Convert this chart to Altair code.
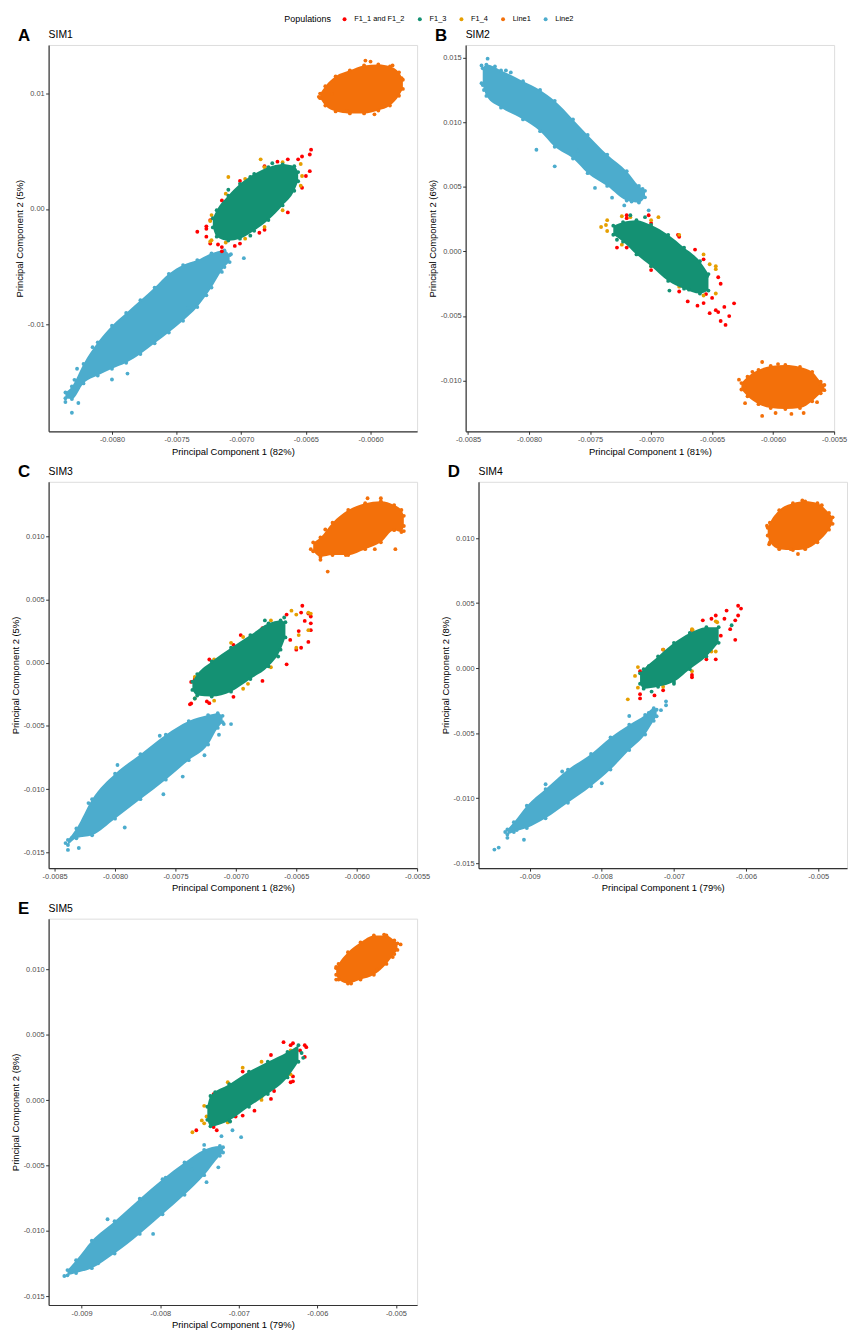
import altair as alt
import pandas as pd

POPS = ["F1_1 and F1_2", "F1_3", "F1_4", "Line1", "Line2"]
COLORS = ["#FF0000", "#149173", "#E69F00", "#F3700A", "#4CACCD"]
DRAW_ORDER = ["Line2", "Line1", "F1_1 and F1_2", "F1_4", "F1_3"]
FILLED = ["Line2", "Line1", "F1_3"]          # clusters drawn as a dense core
FONT = "Liberation Sans"

# ---------------- SIM1 (panel A) : rows are (PC1, PC2 low, PC2 high) ----------------
SIM1_LINE2_BAND = [(-0.00836, -0.01640, -0.01590), (-0.00831, -0.01647, -0.01537), (-0.00822, -0.01511, -0.01342),
                   (-0.00811, -0.01443, -0.01155), (-0.00800, -0.01384, -0.01011), (-0.00789, -0.01333, -0.00901),
                   (-0.00778, -0.01257, -0.00791), (-0.00767, -0.01164, -0.00681), (-0.00756, -0.01071, -0.00562),
                   (-0.00745, -0.00969, -0.00486), (-0.00734, -0.00850, -0.00443), (-0.00723, -0.00681, -0.00384),
                   (-0.00713, -0.00503, -0.00358), (-0.00709, -0.00460, -0.00400)]
SIM1_LINE2_PTS = [(-0.00836, -0.01672), (-0.00831, -0.01765), (-0.00826, -0.01681), (-0.00829, -0.01480),
                  (-0.00827, -0.01384), (-0.00815, -0.01197), (-0.00800, -0.01477), (-0.00788, -0.01426),
                  (-0.00715, -0.00545), (-0.00708, -0.00392), (-0.00698, -0.00426), (-0.00727, -0.00748),
                  (-0.00741, -0.00859), (-0.00765, -0.01113)]
SIM1_LINE1_BAND = [(-0.00639, 0.00960, 0.01000), (-0.00635, 0.00896, 0.01064), (-0.00627, 0.00845, 0.01149),
                   (-0.00616, 0.00828, 0.01201), (-0.00605, 0.00828, 0.01243), (-0.00594, 0.00853, 0.01252),
                   (-0.00585, 0.00896, 0.01235), (-0.00578, 0.00981, 0.01184), (-0.00575, 0.01040, 0.01120)]
SIM1_LINE1_PTS = [(-0.00640, 0.00972), (-0.00634, 0.00913), (-0.00600, 0.01277), (-0.00604, 0.01286),
                  (-0.00583, 0.01243), (-0.00597, 0.00820), (-0.00618, 0.00845), (-0.00576, 0.01133),
                  (-0.00630, 0.00997)]
SIM1_F112_BAND = [(-0.00727, -0.00240, -0.00150), (-0.00724, -0.00300, -0.00096), (-0.00715, -0.00330, 0.00074),
                  (-0.00701, -0.00300, 0.00243), (-0.00682, -0.00180, 0.00370), (-0.00664, -0.00030, 0.00430),
                  (-0.00653, 0.00184, 0.00455), (-0.00647, 0.00328, 0.00472)]
SIM1_F112_PTS = [(-0.00646, 0.00514), (-0.00656, 0.00430), (-0.00734, -0.00197), (-0.00715, -0.00367),
                 (-0.00686, -0.00206), (-0.00650, 0.00286), (-0.00727, -0.00172), (-0.00718, -0.00308),
                 (-0.00705, -0.00320), (-0.00660, 0.00250), (-0.00672, 0.00410)]
SIM1_F14_BAND = [(-0.00723, -0.00270, -0.00053), (-0.00712, -0.00290, 0.00133), (-0.00697, -0.00257, 0.00260),
                 (-0.00682, -0.00155, 0.00362), (-0.00668, -0.00011, 0.00405), (-0.00654, 0.00201, 0.00390)]
SIM1_F14_PTS = [(-0.00724, -0.00104), (-0.00724, -0.00282), (-0.00710, 0.00277), (-0.00685, 0.00430),
                (-0.00653, 0.00286), (-0.00660, 0.00345)]
SIM1_F13_BAND = [(-0.00722, -0.00160, -0.00080), (-0.00719, -0.00240, -0.00011), (-0.00710, -0.00274, 0.00116),
                 (-0.00701, -0.00257, 0.00218), (-0.00690, -0.00189, 0.00303), (-0.00679, -0.00096, 0.00362),
                 (-0.00668, 0.00031, 0.00387), (-0.00659, 0.00158, 0.00370), (-0.00656, 0.00240, 0.00320)]
SIM1_F13_PTS = [(-0.00710, 0.00167), (-0.00693, 0.00277), (-0.00676, 0.00396), (-0.00693, -0.00231)]

# ---------------- SIM2 (panel B) ----------------
SIM2_LINE2_BAND = [(-0.00838, 0.01290, 0.01420), (-0.00835, 0.01206, 0.01449), (-0.00823, 0.01115, 0.01404),
                   (-0.00805, 0.01024, 0.01320), (-0.00791, 0.00933, 0.01252), (-0.00779, 0.00812, 0.01168),
                   (-0.00764, 0.00721, 0.01024), (-0.00752, 0.00607, 0.00903), (-0.00736, 0.00508, 0.00751),
                   (-0.00720, 0.00395, 0.00622), (-0.00710, 0.00379, 0.00508), (-0.00705, 0.00420, 0.00470)]
SIM2_LINE2_PTS = [(-0.00839, 0.01442), (-0.00834, 0.01495), (-0.00828, 0.01434), (-0.00839, 0.01305),
                  (-0.00837, 0.01252), (-0.00819, 0.01404), (-0.00815, 0.01388), (-0.00794, 0.00789),
                  (-0.00760, 0.00781), (-0.00732, 0.00417), (-0.00716, 0.00387), (-0.00707, 0.00486),
                  (-0.00702, 0.00319), (-0.00722, 0.00357), (-0.00779, 0.00660), (-0.00746, 0.00493)]
SIM2_LINE1_BAND = [(-0.00626, -0.01070, -0.01020), (-0.00621, -0.01123, -0.00971), (-0.00612, -0.01184, -0.00918),
                   (-0.00602, -0.01214, -0.00888), (-0.00590, -0.01222, -0.00880), (-0.00578, -0.01214, -0.00895),
                   (-0.00568, -0.01161, -0.00933), (-0.00561, -0.01100, -0.01009), (-0.00558, -0.01075, -0.01035)]
SIM2_LINE1_PTS = [(-0.00628, -0.00994), (-0.00623, -0.01055), (-0.00623, -0.01176), (-0.00609, -0.01275),
                  (-0.00598, -0.01252), (-0.00585, -0.01259), (-0.00575, -0.01252), (-0.00564, -0.01168),
                  (-0.00561, -0.01040), (-0.00609, -0.00857), (-0.00596, -0.00873), (-0.00617, -0.00933)]
SIM2_F112_BAND = [(-0.00720, 0.00030, 0.00258), (-0.00700, -0.00144, 0.00220), (-0.00677, -0.00310, 0.00114),
                  (-0.00657, -0.00400, -0.00061), (-0.00645, -0.00470, -0.00200)]
SIM2_F112_PTS = [(-0.00728, 0.00030), (-0.00720, 0.00281), (-0.00702, 0.00281), (-0.00678, 0.00129),
                 (-0.00664, 0.00015), (-0.00643, -0.00250), (-0.00632, -0.00402), (-0.00639, -0.00569),
                 (-0.00643, -0.00539), (-0.00652, -0.00478), (-0.00670, -0.00387), (-0.00636, -0.00501),
                 (-0.00647, -0.00455), (-0.00655, -0.00330), (-0.00662, -0.00420), (-0.00650, -0.00360),
                 (-0.00640, -0.00430), (-0.00660, -0.00280)]
SIM2_F14_BAND = [(-0.00736, 0.00159, 0.00243), (-0.00724, 0.00053, 0.00273), (-0.00700, -0.00114, 0.00243),
                 (-0.00677, -0.00273, 0.00129), (-0.00657, -0.00341, -0.00023), (-0.00647, -0.00326, -0.00114)]
SIM2_F14_PTS = [(-0.00741, 0.00190), (-0.00737, 0.00205), (-0.00669, -0.00083), (-0.00652, -0.00099),
                (-0.00647, -0.00137), (-0.00717, 0.00266), (-0.00694, 0.00266)]
SIM2_F13_BAND = [(-0.00731, 0.00130, 0.00200), (-0.00723, 0.00076, 0.00228), (-0.00712, -0.00023, 0.00243),
                 (-0.00700, -0.00114, 0.00205), (-0.00686, -0.00228, 0.00129), (-0.00673, -0.00288, 0.00030),
                 (-0.00660, -0.00326, -0.00076), (-0.00653, -0.00303, -0.00175)]
SIM2_F13_PTS = [(-0.00717, 0.00281), (-0.00705, 0.00266), (-0.00669, -0.00296), (-0.00654, -0.00190),
                (-0.00685, -0.00303), (-0.00728, 0.00091)]

# ---------------- SIM3 (panel C) ----------------
SIM3_LINE2_BAND = [(-0.00839, -0.01440, -0.01400), (-0.00832, -0.01387, -0.01309), (-0.00819, -0.01363, -0.01078),
                   (-0.00800, -0.01232, -0.00877), (-0.00779, -0.01078, -0.00723), (-0.00758, -0.00924, -0.00569),
                   (-0.00739, -0.00770, -0.00461), (-0.00723, -0.00646, -0.00414), (-0.00715, -0.00515, -0.00399),
                   (-0.00711, -0.00470, -0.00420)]
SIM3_LINE2_PTS = [(-0.00841, -0.01425), (-0.00839, -0.01479), (-0.00830, -0.01464), (-0.00836, -0.01387),
                  (-0.00822, -0.01109), (-0.00798, -0.00808), (-0.00792, -0.01302), (-0.00760, -0.01039),
                  (-0.00710, -0.00485), (-0.00704, -0.00485), (-0.00714, -0.00569), (-0.00726, -0.00731),
                  (-0.00744, -0.00900), (-0.00763, -0.00577)]
SIM3_LINE1_BAND = [(-0.00636, 0.00880, 0.00950), (-0.00630, 0.00836, 0.00990), (-0.00620, 0.00851, 0.01106),
                   (-0.00607, 0.00851, 0.01206), (-0.00593, 0.00897, 0.01260), (-0.00580, 0.00951, 0.01276),
                   (-0.00569, 0.01047, 0.01245), (-0.00563, 0.01032, 0.01206), (-0.00561, 0.01080, 0.01160)]
SIM3_LINE1_PTS = [(-0.00638, 0.00897), (-0.00634, 0.00897), (-0.00630, 0.00813), (-0.00624, 0.00720),
                  (-0.00591, 0.01299), (-0.00580, 0.01299), (-0.00561, 0.01040), (-0.00568, 0.00897),
                  (-0.00585, 0.00897), (-0.00609, 0.00851), (-0.00626, 0.01052)]
SIM3_F112_BAND = [(-0.00737, -0.00322, -0.00152), (-0.00722, -0.00320, 0.00025), (-0.00702, -0.00270, 0.00141),
                  (-0.00678, -0.00144, 0.00272), (-0.00658, -0.00013, 0.00380), (-0.00646, 0.00118, 0.00396),
                  (-0.00638, 0.00257, 0.00365)]
SIM3_F112_PTS = [(-0.00645, 0.00450), (-0.00640, 0.00388), (-0.00638, 0.00311), (-0.00640, 0.00164),
                 (-0.00650, 0.00103), (-0.00738, -0.00329), (-0.00734, -0.00129), (-0.00724, -0.00306),
                 (-0.00684, -0.00075), (-0.00668, 0.00049), (-0.00696, 0.00218), (-0.00643, 0.00330),
                 (-0.00648, 0.00250), (-0.00655, 0.00180)]
SIM3_F14_BAND = [(-0.00734, -0.00283, -0.00113), (-0.00718, -0.00300, 0.00025), (-0.00694, -0.00206, 0.00203),
                 (-0.00671, -0.00036, 0.00334), (-0.00650, 0.00118, 0.00380), (-0.00640, 0.00257, 0.00396)]
SIM3_F14_PTS = [(-0.00638, 0.00388), (-0.00648, 0.00218), (-0.00732, -0.00191), (-0.00704, 0.00157),
                (-0.00690, -0.00167), (-0.00654, 0.00411)]
SIM3_F13_BAND = [(-0.00736, -0.00215, -0.00150), (-0.00732, -0.00260, -0.00090), (-0.00720, -0.00268, 0.00010),
                 (-0.00704, -0.00229, 0.00118), (-0.00688, -0.00129, 0.00218), (-0.00673, -0.00029, 0.00311),
                 (-0.00663, 0.00103, 0.00334), (-0.00659, 0.00200, 0.00320)]
SIM3_F13_PTS = [(-0.00734, -0.00283), (-0.00676, 0.00334), (-0.00660, 0.00357), (-0.00665, 0.00049)]

# ---------------- SIM4 (panel D) ----------------
SIM4_LINE2_BAND = [(-0.00931, -0.01280, -0.01240), (-0.00922, -0.01260, -0.01185), (-0.00904, -0.01230, -0.01058),
                   (-0.00878, -0.01155, -0.00930), (-0.00847, -0.01035, -0.00780), (-0.00815, -0.00908, -0.00660),
                   (-0.00788, -0.00780, -0.00533), (-0.00762, -0.00630, -0.00435), (-0.00740, -0.00510, -0.00360),
                   (-0.00728, -0.00405, -0.00308), (-0.00724, -0.00370, -0.00320)]
SIM4_LINE2_PTS = [(-0.00949, -0.01395), (-0.00943, -0.01380), (-0.00934, -0.01260), (-0.00931, -0.01305),
                  (-0.00918, -0.01245), (-0.00908, -0.01320), (-0.00878, -0.00893), (-0.00855, -0.00795),
                  (-0.00800, -0.00885), (-0.00735, -0.00345), (-0.00718, -0.00323), (-0.00711, -0.00255),
                  (-0.00711, -0.00285), (-0.00734, -0.00368), (-0.00762, -0.00368)]
SIM4_LINE1_BAND = [(-0.00570, 0.01020, 0.01080), (-0.00567, 0.00968, 0.01118), (-0.00554, 0.00915, 0.01215),
                   (-0.00535, 0.00908, 0.01268), (-0.00518, 0.00915, 0.01283), (-0.00501, 0.00968, 0.01268),
                   (-0.00485, 0.01065, 0.01193), (-0.00480, 0.01110, 0.01160)]
SIM4_LINE1_PTS = [(-0.00571, 0.01095), (-0.00568, 0.00953), (-0.00528, 0.00878), (-0.00522, 0.01290),
                  (-0.00495, 0.01253), (-0.00482, 0.01155), (-0.00538, 0.00915)]
SIM4_F112_BAND = [(-0.00747, -0.00200, -0.00023), (-0.00715, -0.00170, 0.00143), (-0.00675, -0.00070, 0.00293),
                  (-0.00642, 0.00068, 0.00405), (-0.00615, 0.00218, 0.00368)]
SIM4_F112_PTS = [(-0.00611, 0.00480), (-0.00607, 0.00458), (-0.00611, 0.00405), (-0.00627, 0.00443),
                 (-0.00747, -0.00233), (-0.00727, -0.00210), (-0.00675, -0.00053), (-0.00655, 0.00068),
                 (-0.00704, -0.00068), (-0.00660, 0.00368), (-0.00630, 0.00380), (-0.00622, 0.00300),
                 (-0.00635, 0.00250), (-0.00648, 0.00380)]
SIM4_F14_BAND = [(-0.00750, -0.00150, 0.00008), (-0.00715, -0.00143, 0.00143), (-0.00675, -0.00023, 0.00300),
                 (-0.00642, 0.00128, 0.00360)]
SIM4_F14_PTS = [(-0.00754, -0.00060), (-0.00764, -0.00240), (-0.00740, -0.00075), (-0.00674, 0.00293),
                (-0.00648, 0.00128), (-0.00640, 0.00353)]
SIM4_F13_BAND = [(-0.00747, -0.00120, -0.00040), (-0.00742, -0.00158, -0.00008), (-0.00722, -0.00143, 0.00090),
                 (-0.00700, -0.00105, 0.00195), (-0.00678, -0.00008, 0.00270), (-0.00655, 0.00090, 0.00315),
                 (-0.00638, 0.00195, 0.00315)]
SIM4_F13_PTS = [(-0.00735, 0.00015), (-0.00731, -0.00180), (-0.00620, 0.00330), (-0.00700, -0.00120)]

# ---------------- SIM5 (panel E) ----------------
SIM5_LINE2_BAND = [(-0.00918, -0.01340, -0.01300), (-0.00907, -0.01323, -0.01225), (-0.00887, -0.01285, -0.01075),
                   (-0.00858, -0.01173, -0.00926), (-0.00826, -0.01023, -0.00754), (-0.00797, -0.00873, -0.00604),
                   (-0.00769, -0.00724, -0.00477), (-0.00744, -0.00574, -0.00380), (-0.00724, -0.00425, -0.00350),
                   (-0.00720, -0.00400, -0.00360)]
SIM5_LINE2_PTS = [(-0.00922, -0.01345), (-0.00913, -0.01308), (-0.00879, -0.01248), (-0.00867, -0.00911),
                  (-0.00809, -0.01023), (-0.00760, -0.00529), (-0.00744, -0.00342), (-0.00726, -0.00514),
                  (-0.00741, -0.00627), (-0.00722, -0.00367), (-0.00793, -0.00592), (-0.00722, -0.00275),
                  (-0.00708, -0.00230), (-0.00697, -0.00283)]
SIM5_LINE1_BAND = [(-0.00576, 0.00960, 0.01010), (-0.00573, 0.00923, 0.01043), (-0.00561, 0.00893, 0.01132),
                   (-0.00545, 0.00923, 0.01207), (-0.00528, 0.00960, 0.01260), (-0.00512, 0.01043, 0.01260),
                   (-0.00502, 0.01118, 0.01222), (-0.00498, 0.01150, 0.01200)]
SIM5_LINE1_PTS = [(-0.00576, 0.01020), (-0.00576, 0.00923), (-0.00557, 0.00893), (-0.00515, 0.01267),
                  (-0.00494, 0.01192), (-0.00524, 0.00998), (-0.00504, 0.01095)]
SIM5_F112_BAND = [(-0.00732, -0.00205, 0.00047), (-0.00695, -0.00118, 0.00219), (-0.00659, 0.00010, 0.00346),
                  (-0.00634, 0.00137, 0.00421), (-0.00616, 0.00331, 0.00421)]
SIM5_F112_PTS = [(-0.00643, 0.00444), (-0.00631, 0.00436), (-0.00614, 0.00406), (-0.00631, 0.00182),
                 (-0.00631, 0.00144), (-0.00680, -0.00080), (-0.00704, -0.00125), (-0.00754, -0.00230),
                 (-0.00728, -0.00230), (-0.00655, 0.00070), (-0.00622, 0.00380), (-0.00640, 0.00250),
                 (-0.00650, 0.00160)]
SIM5_F14_BAND = [(-0.00744, -0.00177, -0.00043), (-0.00714, -0.00170, 0.00137), (-0.00671, 0.00002, 0.00294),
                 (-0.00634, 0.00197, 0.00380)]
SIM5_F14_PTS = [(-0.00759, -0.00245), (-0.00747, -0.00155), (-0.00741, -0.00125), (-0.00695, 0.00249),
                (-0.00671, 0.00025), (-0.00643, 0.00174)]
SIM5_F13_BAND = [(-0.00740, -0.00150, -0.00050), (-0.00736, -0.00200, 0.00032), (-0.00712, -0.00155, 0.00122),
                 (-0.00687, -0.00050, 0.00219), (-0.00663, 0.00047, 0.00294), (-0.00638, 0.00174, 0.00369),
                 (-0.00624, 0.00294, 0.00421)]
SIM5_F13_PTS = [(-0.00620, 0.00361), (-0.00618, 0.00324), (-0.00730, 0.00062), (-0.00711, -0.00163)]

# ---------------- axes ----------------
PANEL_LETTERS = ["A", "B", "C", "D", "E"]
PANEL_NAMES = ["SIM1", "SIM2", "SIM3", "SIM4", "SIM5"]
PC1_PCT = ["82%", "81%", "82%", "79%", "79%"]
PC2_PCT = ["5%", "6%", "5%", "8%", "8%"]
X_DOMAINS = [[-0.00849, -0.00564], [-0.00852, -0.00550], [-0.00855, -0.00550], [-0.00971, -0.00460], [-0.00942, -0.00473]]
Y_DOMAINS = [[-0.01926, 0.01421], [-0.01394, 0.01601], [-0.01623, 0.01429], [-0.01538, 0.01433], [-0.01567, 0.01389]]
X_TICKS = [[-0.0080, -0.0075, -0.0070, -0.0065, -0.0060],
           [-0.0085, -0.0080, -0.0075, -0.0070, -0.0065, -0.0060, -0.0055],
           [-0.0085, -0.0080, -0.0075, -0.0070, -0.0065, -0.0060, -0.0055],
           [-0.009, -0.008, -0.007, -0.006, -0.005],
           [-0.009, -0.008, -0.007, -0.006, -0.005]]
Y_TICKS = [[-0.01, 0.0, 0.01],
           [-0.010, -0.005, 0.0, 0.005, 0.010, 0.015],
           [-0.015, -0.010, -0.005, 0.0, 0.005, 0.010],
           [-0.015, -0.010, -0.005, 0.0, 0.005, 0.010],
           [-0.015, -0.010, -0.005, 0.0, 0.005, 0.010]]
X_FMT = [".4f", ".4f", ".4f", ".3f", ".3f"]
Y_FMT = [".2f", ".3f", ".3f", ".3f", ".3f"]

BANDS = [
    {"Line2": SIM1_LINE2_BAND, "Line1": SIM1_LINE1_BAND, "F1_1 and F1_2": SIM1_F112_BAND, "F1_4": SIM1_F14_BAND, "F1_3": SIM1_F13_BAND},
    {"Line2": SIM2_LINE2_BAND, "Line1": SIM2_LINE1_BAND, "F1_1 and F1_2": SIM2_F112_BAND, "F1_4": SIM2_F14_BAND, "F1_3": SIM2_F13_BAND},
    {"Line2": SIM3_LINE2_BAND, "Line1": SIM3_LINE1_BAND, "F1_1 and F1_2": SIM3_F112_BAND, "F1_4": SIM3_F14_BAND, "F1_3": SIM3_F13_BAND},
    {"Line2": SIM4_LINE2_BAND, "Line1": SIM4_LINE1_BAND, "F1_1 and F1_2": SIM4_F112_BAND, "F1_4": SIM4_F14_BAND, "F1_3": SIM4_F13_BAND},
    {"Line2": SIM5_LINE2_BAND, "Line1": SIM5_LINE1_BAND, "F1_1 and F1_2": SIM5_F112_BAND, "F1_4": SIM5_F14_BAND, "F1_3": SIM5_F13_BAND},
]
POINTS = [
    {"Line2": SIM1_LINE2_PTS, "Line1": SIM1_LINE1_PTS, "F1_1 and F1_2": SIM1_F112_PTS, "F1_4": SIM1_F14_PTS, "F1_3": SIM1_F13_PTS},
    {"Line2": SIM2_LINE2_PTS, "Line1": SIM2_LINE1_PTS, "F1_1 and F1_2": SIM2_F112_PTS, "F1_4": SIM2_F14_PTS, "F1_3": SIM2_F13_PTS},
    {"Line2": SIM3_LINE2_PTS, "Line1": SIM3_LINE1_PTS, "F1_1 and F1_2": SIM3_F112_PTS, "F1_4": SIM3_F14_PTS, "F1_3": SIM3_F13_PTS},
    {"Line2": SIM4_LINE2_PTS, "Line1": SIM4_LINE1_PTS, "F1_1 and F1_2": SIM4_F112_PTS, "F1_4": SIM4_F14_PTS, "F1_3": SIM4_F13_PTS},
    {"Line2": SIM5_LINE2_PTS, "Line1": SIM5_LINE1_PTS, "F1_1 and F1_2": SIM5_F112_PTS, "F1_4": SIM5_F14_PTS, "F1_3": SIM5_F13_PTS},
]

W, H = 372, 390
CMAP = dict(zip(POPS, COLORS))
MINUS = "\u2212"

color_scale = alt.Scale(domain=POPS, range=COLORS)
legend = alt.Legend(title="Populations", orient="none", legendX=238, legendY=-30, direction="horizontal",
                    titleOrient="left", titleFontSize=9, titleFontWeight="normal", titleColor="black",
                    titleFont=FONT, titlePadding=9, labelFont=FONT, labelFontSize=7.5, labelColor="black",
                    labelOffset=6, columnPadding=11, symbolType="circle", symbolSize=16,
                    symbolStrokeWidth=0, symbolOpacity=1)


def axis(title, values, fmt):
    return alt.Axis(title=title, values=values, grid=False,
                    labelExpr=f"replace(format(datum.value, '{fmt}'), '{MINUS}', '-')",
                    labelFont=FONT, labelFontSize=7.5, labelColor="#4D4D4D", labelPadding=1.5,
                    labelFlush=False, labelOverlap=False,
                    tickColor="#333333", tickSize=3, tickWidth=1,
                    domainColor="#333333", domainWidth=1.2,
                    titleFont=FONT, titleFontSize=9.5, titleFontWeight="normal", titleColor="black",
                    titlePadding=3)


def make_panel(i):
    xs = alt.Scale(domain=X_DOMAINS[i], nice=False, zero=False)
    ys = alt.Scale(domain=Y_DOMAINS[i], nice=False, zero=False)
    xa = axis(f"Principal Component 1 ({PC1_PCT[i]})", X_TICKS[i], X_FMT[i])
    ya = axis(f"Principal Component 2 ({PC2_PCT[i]})", Y_TICKS[i], Y_FMT[i])
    layers = []
    for pop in DRAW_ORDER:
        band = BANDS[i][pop]
        if pop in FILLED:
            layers.append(
                alt.Chart(pd.DataFrame(band, columns=["x", "lo", "hi"])).mark_area(
                    color=CMAP[pop], opacity=1, interpolate="monotone").encode(
                    x=alt.X("x:Q", scale=xs, axis=xa),
                    y=alt.Y("lo:Q", scale=ys, axis=ya),
                    y2="hi:Q",
                )
            )
        rows = [(b[0], b[1]) for b in band] + [(b[0], b[2]) for b in band] + list(POINTS[i][pop])
        pts = pd.DataFrame(rows, columns=["x", "y"])
        pts["pop"] = pop
        layers.append(
            alt.Chart(pts).mark_circle(size=15, opacity=1).encode(
                x=alt.X("x:Q", scale=xs, axis=xa),
                y=alt.Y("y:Q", scale=ys, axis=ya),
                color=alt.Color("pop:N", scale=color_scale, legend=legend),
            )
        )
    letter = alt.Chart(pd.DataFrame({"t": [PANEL_LETTERS[i]]})).mark_text(
        font=FONT, fontSize=17, fontWeight="bold", align="left", baseline="alphabetic", color="black"
    ).encode(text="t:N", x=alt.value(-31), y=alt.value(-4.5))
    name = alt.Chart(pd.DataFrame({"t": [PANEL_NAMES[i]]})).mark_text(
        font=FONT, fontSize=10.5, align="left", baseline="alphabetic", color="black"
    ).encode(text="t:N", x=alt.value(0), y=alt.value(-7))
    layers += [letter, name]
    return alt.layer(*layers).properties(width=W, height=H)


panels = [make_panel(i) for i in range(5)]
row1 = alt.hconcat(panels[0], panels[1], spacing=8)
row2 = alt.hconcat(panels[2], panels[3], spacing=8)
row3 = alt.hconcat(panels[4], spacing=8)

chart = alt.vconcat(row1, row2, row3, spacing=7).resolve_scale(
    color="shared"
).properties(
    padding={"left": 1, "top": 1, "right": 1, "bottom": 1}
).configure_view(strokeWidth=0).configure(font=FONT, background="white")

chart.save("out.html", embed_options={"renderer": "svg", "actions": False})
